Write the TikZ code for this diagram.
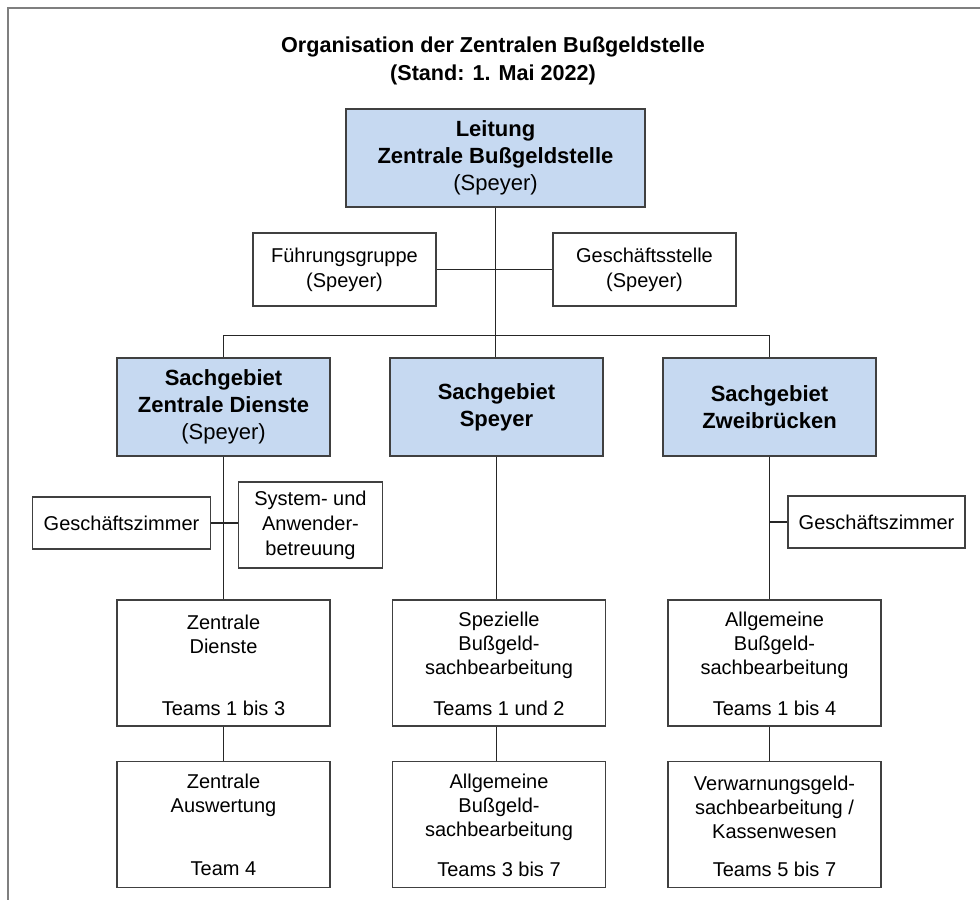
\documentclass[tikz,border=0pt]{standalone}
\usepackage{fontspec}
\setmainfont{Liberation Sans}
\usetikzlibrary{calc}

\definecolor{headblue}{HTML}{C6D9F1}
\definecolor{boxline}{HTML}{404040}
\definecolor{framegray}{HTML}{7F7F7F}

\begin{document}
\begin{tikzpicture}[x=0.5pt, y=-0.5pt,
  box/.style={draw=boxline, fill=white, line width=0.7pt, inner sep=0pt,
    align=center, font=\fontsize{10}{12.5}\selectfont},
  headbox/.style={box, fill=headblue, font=\fontsize{11}{13.5}\selectfont,
    minimum width=106.5pt, minimum height=49pt},
  sidebox/.style={box, minimum width=91.5pt, minimum height=36.5pt},
  unitbox/.style={box, minimum width=106.5pt, minimum height=63pt},
  boxtext/.style={inner sep=0pt, align=center, font=\fontsize{10}{12}\selectfont},
  link/.style={draw=black!85, line width=0.7pt}]
  \useasboundingbox (0,0) rectangle (980,900);

  % page frame (right and bottom edges are cut off)
  \draw[framegray, line width=0.7pt] (980,8) -- (8,8) -- (8,900);

  % title
  \node[boxtext, font=\fontsize{10.8}{14}\selectfont\bfseries] (title) at (493,61)
    {Organisation der Zentralen Bußgeldstelle\\(Stand: 1. Mai 2022)};

  % top of the tree
  \node[headbox, minimum width=149.5pt] (lz) at (495.5,158)
    {\textbf{Leitung}\\\textbf{Zentrale Bußgeldstelle}\\(Speyer)};
  \node[sidebox] (fg) at (344.5,269.5) {Führungsgruppe\\(Speyer)};
  \node[sidebox] (gs) at (644.5,269.5) {Geschäftsstelle\\(Speyer)};

  % three Sachgebiete
  \node[headbox] (sgz) at (223.5,407)
    {\textbf{Sachgebiet}\\\textbf{Zentrale Dienste}\\(Speyer)};
  \node[headbox] (sgs) at (496.5,407) {\textbf{Sachgebiet}\\\textbf{Speyer}};
  \node[headbox] (sgw) at (769.5,407) {\textbf{Sachgebiet}\\\textbf{Zweibrücken}};

  % side boxes below the Sachgebiete
  \node[box, minimum width=89pt, minimum height=26pt] (gzl) at (121.5,523) {Geschäftszimmer};
  \node[box, minimum width=72pt, minimum height=43pt] (sys) at (310.5,525)
    {System- und\\Anwender-\\betreuung};
  \node[box, minimum width=88.5pt, minimum height=26pt] (gzr) at (876.5,522) {Geschäftszimmer};

  % team boxes, left column
  \node[unitbox] (zd) at (223.5,663) {};
  \node[boxtext] (zdname) at (223.5,634) {Zentrale\\Dienste};
  \node[boxtext] (zdteam) at (223.5,708) {Teams 1 bis 3};
  \node[unitbox] (za) at (223.5,824.5) {};
  \node[boxtext] (zaname) at (223.5,795) {Zentrale\\Auswertung};
  \node[boxtext] (zateam) at (223.5,869) {Team 4};

  % team boxes, middle column
  \node[unitbox] (sp) at (499,663) {};
  \node[boxtext] (spname) at (499,645) {Spezielle\\Bußgeld-\\sachbearbeitung};
  \node[boxtext] (spteam) at (499,708) {Teams 1 und 2};
  \node[unitbox] (ab) at (499,824.5) {};
  \node[boxtext] (abname) at (499,807) {Allgemeine\\Bußgeld-\\sachbearbeitung};
  \node[boxtext] (abteam) at (499,869) {Teams 3 bis 7};

  % team boxes, right column
  \node[unitbox] (ar) at (774.5,663) {};
  \node[boxtext] (arname) at (774.5,645) {Allgemeine\\Bußgeld-\\sachbearbeitung};
  \node[boxtext] (arteam) at (774.5,708) {Teams 1 bis 4};
  \node[unitbox] (vw) at (774.5,824.5) {};
  \node[boxtext] (vwname) at (774.5,807) {Verwarnungsgeld-\\sachbearbeitung /\\Kassenwesen};
  \node[boxtext] (vwteam) at (774.5,869) {Teams 5 bis 7};

  % connectors
  \draw[link] (lz.south) -- (lz.south |- sgs.north);
  \draw[link] (fg.east) -- (gs.west);
  \draw[link] (sgz.north) -- ++(0,-22) -| (sgw.north);
  \draw[link] (sgz.south) -- (zd.north);
  \draw[link] (zd.south) -- (za.north);
  \draw[link] (gzl.east) -- (gzl.east -| sys.west);
  \draw[link] (sgs.south) -- (sgs.south |- sp.north);
  \draw[link] (sgs.south |- sp.south) -- (sgs.south |- ab.north);
  \draw[link] (sgw.south) -- (sgw.south |- ar.north);
  \draw[link] (sgw.south |- ar.south) -- (sgw.south |- vw.north);
  \draw[link] (gzr.west) -- (gzr.west -| sgw.south);
\end{tikzpicture}
\end{document}
